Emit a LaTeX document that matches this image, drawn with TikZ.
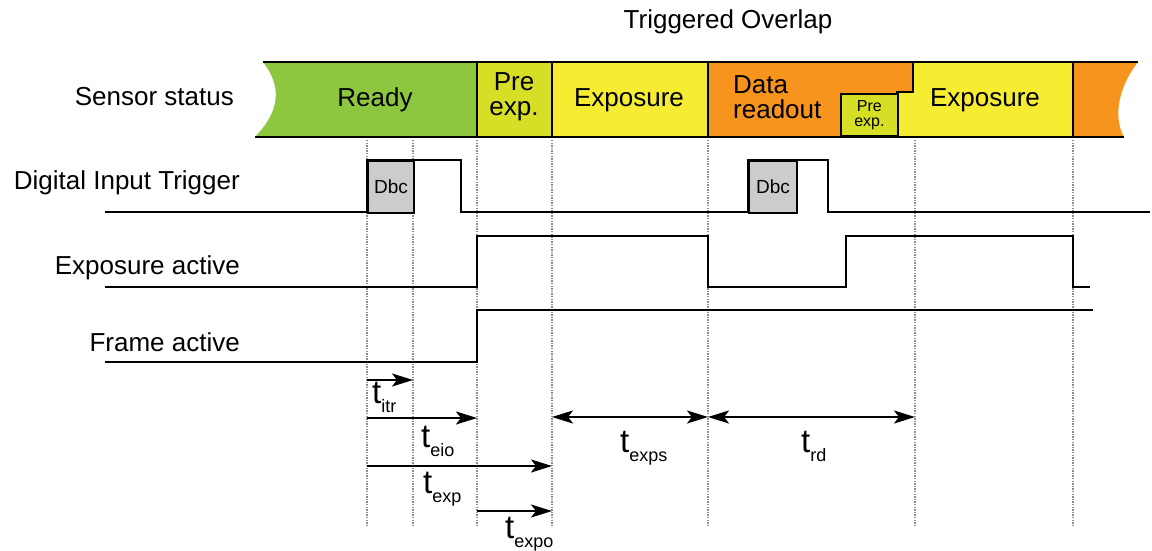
\documentclass[tikz,border=0pt]{standalone}
\usepackage{fontspec}
\setmainfont{Liberation Sans}
\usetikzlibrary{arrows.meta}
\definecolor{cready}{RGB}{141,198,63}
\definecolor{cpre}{RGB}{214,222,38}
\definecolor{cexp}{RGB}{246,236,50}
\definecolor{corange}{RGB}{247,148,30}
\definecolor{cdbc}{RGB}{204,204,204}
\newcommand\tlab[1]{{\fontsize{33}{33}\selectfont t}{\fontsize{18}{18}\selectfont\raisebox{-9pt}{#1}}}
\begin{document}
\begin{tikzpicture}[x=1pt,y=-1pt,
  lbl/.style={font=\fontsize{26}{29}\selectfont, inner sep=0pt},
  barlbl/.style={font=\fontsize{26}{25}\selectfont, inner sep=0pt, align=center},
  sig/.style={line width=2.2pt, line join=miter},
  gridline/.style={black!45, line width=1.2pt, dash pattern=on 1.3pt off 1.3pt},
  dimarrow/.style={line width=2.2pt, -{Stealth[length=21pt,width=13pt,inset=5pt]}},
  dimboth/.style={line width=2.2pt, {Stealth[length=21pt,width=13pt,inset=5pt]}-{Stealth[length=21pt,width=13pt,inset=5pt]}},
  tl/.style={anchor=base west, inner sep=0pt},
  dbcbox/.style={draw, line width=2.2pt, fill=cdbc, anchor=north west, inner sep=0pt,
    minimum height=52pt, font=\fontsize{19}{19}\selectfont},
  outline/.style={line width=1.8pt}]
\useasboundingbox (0,0) rectangle (1152,550);

% grid coordinates
\foreach \n/\x in {A/367,B/413,C/477,D/552,E/708,F/915,G/1073}{
  \coordinate (\n top) at (\x,140);
  \coordinate (\n bot) at (\x,525);
  \draw[gridline] (\n top) -- (\n bot);
}

% sensor status bar
\fill[cready] (263,62) .. controls (283,88) and (279,112) .. (255,137) -- (477,137) -- (477,62) -- cycle;
\fill[cpre] (477,62) rectangle (552,137);
\fill[cexp] (552,62) rectangle (708,137);
\fill[corange] (708,62) -- (913,62) -- (913,92) -- (897,92) -- (897,137) -- (708,137) -- cycle;
\fill[cexp] (913,62) -- (1073,62) -- (1073,137) -- (897,137) -- (897,92) -- (913,92) -- cycle;
\fill[corange] (1073,62) -- (1138,62) .. controls (1120,85) and (1112,115) .. (1124,137) -- (1073,137) -- cycle;
\draw[outline] (263,62) -- (1138,62);
\draw[outline] (255,137) -- (1124,137);
\foreach \x in {477,552,708,1073}{\draw[outline] (\x,62) -- (\x,137);}
\draw[outline] (913,62) -- (913,92) -- (897,92) -- (897,137);
\node[draw, line width=1.8pt, fill=cpre, anchor=south west, minimum width=57pt, minimum height=42pt, inner sep=0pt,
  font=\fontsize{16}{15}\selectfont, align=center] (pre2) at (840,137) {Pre\\exp.};

\node[lbl] (title) at (728,22) {Triggered Overlap};
\node[lbl, anchor=east] (sensor) at (234,97) {Sensor status};
\node[barlbl] (ready) at (375,100) {Ready};
\node[barlbl] (pre1) at (514,97) {Pre\\exp.};
\node[barlbl] (exp1) at (629,100) {Exposure};
\node[barlbl, align=left, anchor=west] (readout) at (733,97) {Data\\readout};
\node[barlbl] (exp2) at (985,100) {Exposure};

% signal labels
\node[lbl, anchor=east] (dit) at (240,183) {Digital Input Trigger};
\node[lbl, anchor=east] (ea) at (240,268) {Exposure active};
\node[lbl, anchor=east] (fa) at (240,342) {Frame active};

% digital input trigger
\node[dbcbox, minimum width=46pt] (dbc1) at (367,160) {Dbc};
\node[dbcbox, minimum width=48pt] (dbc2) at (748,160) {Dbc};
\draw[sig] (105,212) -- (367,212) -- (367,160) -- (461,160) -- (461,212) -- (748,212) -- (748,160) -- (828,160) -- (828,212) -- (1150,212);

% exposure active
\draw[sig] (105,287) -- (477,287) -- (477,236) -- (708,236) -- (708,287) -- (846,287) -- (846,236) -- (1073,236) -- (1073,287) -- (1090,287);

% frame active
\draw[sig] (105,362) -- (477,362) -- (477,310) -- (1093,310);

% timing arrows
\coordinate (itrS) at (367,380); \coordinate (itrE) at (413,380);
\coordinate (eioS) at (367,418); \coordinate (eioE) at (477,418);
\coordinate (expS) at (367,466); \coordinate (expE) at (552,466);
\coordinate (expoS) at (477,511); \coordinate (expoE) at (552,511);
\coordinate (expsS) at (552,417); \coordinate (expsE) at (708,417);
\coordinate (rdS) at (708,417); \coordinate (rdE) at (915,417);
\draw[dimarrow] (itrS) -- (itrE);
\draw[dimarrow] (eioS) -- (eioE);
\draw[dimarrow] (expS) -- (expE);
\draw[dimarrow] (expoS) -- (expoE);
\draw[dimboth] (expsS) -- (expsE);
\draw[dimboth] (rdS) -- (rdE);

\node[tl] (litr) at (372,403) {\tlab{itr}};
\node[tl] (leio) at (421,447) {\tlab{eio}};
\node[tl] (lexp) at (423,493) {\tlab{exp}};
\node[tl] (lexpo) at (505,538) {\tlab{expo}};
\node[tl] (lexps) at (620,452) {\tlab{exps}};
\node[tl] (lrd) at (801,452) {\tlab{rd}};
\end{tikzpicture}
\end{document}
